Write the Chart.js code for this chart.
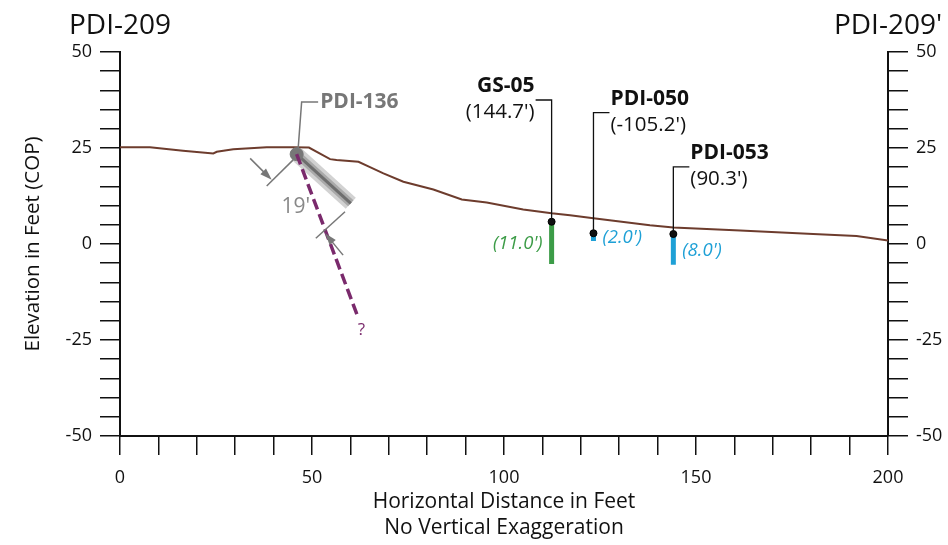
<!DOCTYPE html>
<html><head><meta charset="utf-8">
<script src="https://cdn.jsdelivr.net/npm/chart.js@4/dist/chart.umd.min.js"></script>
<style>html,body{margin:0;padding:0;background:#fff}#wrap{width:948px;height:545px}</style>
</head><body><div id="wrap"><canvas id="c" width="948" height="545"></canvas></div>
<script>
// ---- data ----
const xTicksLabeled = [0, 50, 100, 150, 200];
const yTicksLabeled = [-50, -25, 0, 25, 50];
const leftTitle = 'PDI-209';
const rightTitle = "PDI-209'";

const profileX = [0, 7.8, 16.4, 24.3, 25.2, 29.5, 38.2, 45.1, 49.2, 54.7, 56.4, 62.1, 65.1, 68.6, 73.8, 81.6, 89.0, 95.5, 105.0, 112.4, 117.2, 123.3, 138.0, 144.1, 161.5, 180.5, 191.8, 200];
const profileY = [25.2, 25.2, 24.3, 23.6, 24.0, 24.7, 25.2, 25.2, 25.1, 22.1, 21.9, 21.4, 20.0, 18.4, 16.2, 14.2, 11.6, 10.8, 9.0, 8.0, 7.5, 6.7, 4.9, 4.3, 3.5, 2.6, 2.1, 0.9];

const boreNames = ['GS-05', 'PDI-050', 'PDI-053'];
const boreOffsets = ["(144.7')", "(-105.2')", "(90.3')"];
const boreX = [112.4, 123.3, 144.1];
const boreTop = [5.8, 2.8, 2.6];
const boreDepth = [11.0, 2.0, 8.0];
const boreDepthLabels = ["(11.0')", "(2.0')", "(8.0')"];
const boreLeaderY = [37.5, 34.2, 20.1];
const boreSide = ['left', 'right', 'right'];
const boreColors = ['#3c9c47', '#1ea0d6', '#1ea0d6'];

const angledName = 'PDI-136';
const angledX = [46.0, 60.1];
const angledY = [23.4, 10.6];
const angledLen = "19'";
const angledLeaderX = [46.4, 47.3, 51.6];
const angledLeaderY = [24.9, 37.0, 37.0];
const proposedX = [46.0, 62.1];
const proposedY = [23.4, -19.4];

const dimExtX = [[45.1, 38.2], [58.6, 51.0]];
const dimExtY = [[21.9, 15.1], [8.4, 1.5]];
const dimArrowX = [[33.9, 39.5], [58.1, 53.4]];
const dimArrowY = [[22.3, 16.7], [-2.9, 2.8]];
const dimLabelPos = [45.8, 9.6];

// ---- build ----
const pts = (xs, ys) => xs.map((x, i) => ({x, y: ys[i]}));
const FONT = "'Open Sans', 'DejaVu Sans', sans-serif";

const datasets = [];
datasets.push({label: 'ground', data: pts(profileX, profileY), showLine: true, borderColor: '#6d3c2d', borderWidth: 2, pointRadius: 0, order: 10});
datasets.push({label: 'band1', data: pts(angledX, angledY), showLine: true, borderColor: '#d2d2d2', borderWidth: 15, pointRadius: 0, borderCapStyle: 'butt', order: 9});
datasets.push({label: 'band2', data: pts(angledX, angledY), showLine: true, borderColor: '#a9a9a9', borderWidth: 8, pointRadius: 0, borderCapStyle: 'butt', order: 8});
datasets.push({label: 'band3', data: pts(angledX, angledY), showLine: true, borderColor: '#6e6e6e', borderWidth: 3, pointRadius: 0, borderCapStyle: 'butt', order: 7});
datasets.push({label: 'pdi136', data: [{x: angledX[0], y: angledY[0]}], pointRadius: 6.5, pointBackgroundColor: '#777', pointBorderColor: '#777', order: 6});
datasets.push({label: 'proposed', data: pts(proposedX, proposedY), showLine: true, borderColor: '#7a2a6c', borderWidth: 3.5, borderDash: [11, 5], pointRadius: 0, order: 5});
boreX.forEach((x, i) => {
  datasets.push({label: boreNames[i], data: [{x, y: boreTop[i]}, {x, y: boreTop[i] - boreDepth[i]}], showLine: true, borderColor: boreColors[i], borderWidth: 5, pointRadius: 0, borderCapStyle: 'butt', order: 4});
});
datasets.push({label: 'tops', data: pts(boreX, boreTop), pointRadius: 3.5, pointBackgroundColor: '#111', pointBorderColor: '#000', order: 3});

function arrow(ctx, x1, y1, x2, y2) {
  const a = Math.atan2(y2 - y1, x2 - x1);
  const L = 12, W = 4;
  ctx.beginPath(); ctx.moveTo(x1, y1); ctx.lineTo(x2 - L * Math.cos(a) * 0.5, y2 - L * Math.sin(a) * 0.5); ctx.stroke();
  ctx.beginPath();
  ctx.moveTo(x2, y2);
  ctx.lineTo(x2 - L * Math.cos(a) - W * Math.sin(a), y2 - L * Math.sin(a) + W * Math.cos(a));
  ctx.lineTo(x2 - L * Math.cos(a) + W * Math.sin(a), y2 - L * Math.sin(a) - W * Math.cos(a));
  ctx.closePath(); ctx.fill();
}

const annot = {
  id: 'annot',
  afterDatasetsDraw(chart) {
    const {ctx, scales: {x, y}} = chart;
    const px = v => x.getPixelForValue(v), py = v => y.getPixelForValue(v);
    ctx.save();
    // titles
    ctx.fillStyle = '#111'; ctx.font = '28px ' + FONT; ctx.textAlign = 'center'; ctx.textBaseline = 'middle';
    ctx.fillText(leftTitle, px(0), 26);
    ctx.fillText(rightTitle, px(200), 26);

    // dimension lines
    ctx.strokeStyle = '#777'; ctx.fillStyle = '#777'; ctx.lineWidth = 1.5;
    dimExtX.forEach((xs, i) => {
      ctx.beginPath(); ctx.moveTo(px(xs[0]), py(dimExtY[i][0])); ctx.lineTo(px(xs[1]), py(dimExtY[i][1])); ctx.stroke();
      arrow(ctx, px(dimArrowX[i][0]), py(dimArrowY[i][0]), px(dimArrowX[i][1]), py(dimArrowY[i][1]));
    });
    ctx.font = '21px ' + FONT; ctx.fillStyle = '#888'; ctx.textAlign = 'center';
    ctx.fillText(angledLen, px(dimLabelPos[0]), py(dimLabelPos[1]));

    // PDI-136 leader
    ctx.strokeStyle = '#777'; ctx.lineWidth = 1.5;
    ctx.beginPath();
    angledLeaderX.forEach((lx, i) => { const X = px(lx), Y = py(angledLeaderY[i]); i ? ctx.lineTo(X, Y) : ctx.moveTo(X, Y); });
    ctx.stroke();
    ctx.font = 'bold 21px ' + FONT; ctx.fillStyle = '#777'; ctx.textAlign = 'left';
    ctx.fillText(angledName, px(angledLeaderX[2]) + 2, py(angledLeaderY[2]));

    // "?"
    ctx.font = '17px ' + FONT; ctx.fillStyle = '#7a2a6c'; ctx.textAlign = 'center';
    ctx.fillText('?', px(proposedX[1]) + 3, py(proposedY[1]) + 12);

    // bore leaders & labels
    boreX.forEach((bx, i) => {
      const X = px(bx), Y0 = py(boreTop[i]), YL = py(boreLeaderY[i]);
      const dir = boreSide[i] === 'left' ? -1 : 1;
      const XE = X + dir * 16;
      ctx.strokeStyle = '#111'; ctx.lineWidth = 1.3;
      ctx.beginPath(); ctx.moveTo(X, Y0); ctx.lineTo(X, YL); ctx.lineTo(XE, YL); ctx.stroke();
      ctx.fillStyle = '#111'; ctx.textAlign = dir < 0 ? 'right' : 'left';
      ctx.font = 'bold 21px ' + FONT;
      ctx.fillText(boreNames[i], XE + dir * 1, YL - 14);
      ctx.font = '20.5px ' + FONT;
      ctx.fillText(boreOffsets[i], XE + dir * 1, YL + 12);
      // depth label
      ctx.font = 'italic 18.5px ' + FONT; ctx.fillStyle = boreColors[i];
      const ym = py(boreTop[i] - boreDepth[i] / 2);
      ctx.fillText(boreDepthLabels[i], X + dir * 9, ym + 1);
    });
    ctx.restore();
  }
};

const tickFont = {family: FONT, size: 18};
const yCommon = (pos) => ({
  type: 'linear', position: pos, min: -50, max: 50,
  ticks: {stepSize: 5, autoSkip: false, color: '#111', font: tickFont, padding: 8,
    callback: v => yTicksLabeled.includes(v) ? String(v) : ''},
  grid: {drawOnChartArea: false, drawTicks: true, tickLength: 20, color: '#111', lineWidth: 1.5},
  border: {display: true, color: '#111', width: 2}
});

const yLeft = yCommon('left');
yLeft.title = {display: true, text: 'Elevation in Feet (COP)', color: '#111', font: {family: FONT, size: 20.5, lineHeight: 1.3}, padding: {top: 20, bottom: 0}};
yLeft.afterFit = s => { s.width = 120; };
const yRight = yCommon('right');
yRight.afterFit = s => { s.width = 60; };

new Chart(document.getElementById('c'), {
  type: 'scatter',
  data: {datasets},
  plugins: [annot],
  options: {
    responsive: false, animation: false, devicePixelRatio: 1,
    layout: {padding: {top: 52, left: 0, right: 0, bottom: 0}},
    plugins: {legend: {display: false}, tooltip: {enabled: false}, title: {display: false}},
    scales: {
      x: {
        type: 'linear', position: 'bottom', min: 0, max: 200,
        ticks: {stepSize: 10, autoSkip: false, maxRotation: 0, color: '#111', font: tickFont, padding: 12,
          callback: v => xTicksLabeled.includes(v) ? String(v) : ''},
        grid: {drawOnChartArea: false, drawTicks: true, tickLength: 19, color: '#111', lineWidth: 1.5},
        border: {display: true, color: '#111', width: 2},
        title: {display: true, text: ['Horizontal Distance in Feet', 'No Vertical Exaggeration'], color: '#111', font: {family: FONT, size: 21, lineHeight: 1.24}, padding: {top: 0, bottom: 4}},
        afterFit: s => { s.height = 109; }
      },
      y: yLeft,
      y2: yRight
    }
  }
});
</script>
</body></html>
